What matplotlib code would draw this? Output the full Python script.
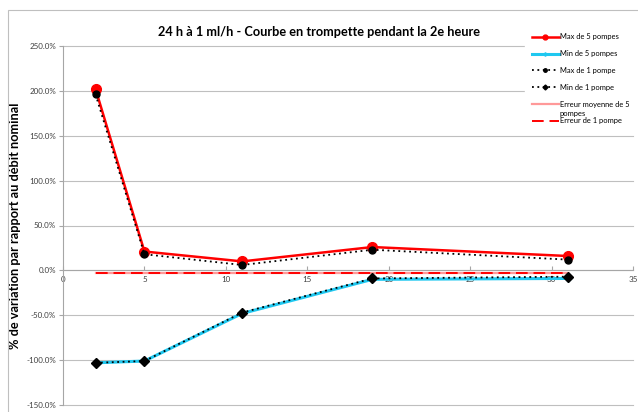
import matplotlib
matplotlib.use("Agg")
import matplotlib.pyplot as plt
from matplotlib.patches import Rectangle
from matplotlib.ticker import FuncFormatter, MultipleLocator

plt.rcParams['font.family'] = ['Lato', 'DejaVu Sans']

# Heures de mesure et variations (%)
x_heures = [2, 5, 11, 19, 31]
max_5_pompes = [202, 21, 10, 26, 16]
min_5_pompes = [-103, -101, -48, -10, -9]
max_1_pompe = [196, 18, 6, 23, 12]
min_1_pompe = [-103, -101, -47, -9, -7]
erreur_moy_5 = [-3.0, -3.0, -3.0, -3.0, -3.0]
erreur_1 = [-2.5, -2.5, -2.5, -2.5, -2.5]

titre = "24 h à 1 ml/h - Courbe en trompette pendant la 2e heure"
label_y = "% de variation par rapport au débit nominal"

fig = plt.figure(figsize=(6.38, 4.12), dpi=100)
ax = fig.add_axes([63/638, 1-405/412, (633-63)/638, (405-46)/412])

ax.plot(x_heures, erreur_moy_5, color='#ff9999', lw=1.6, label='Erreur moyenne de 5', zorder=2)
ax.plot(x_heures, erreur_1, color='#ff0000', lw=1.4, dashes=(6, 3), label='Erreur de 1 pompe', zorder=3)
ax.plot(x_heures, min_5_pompes, color='#1fc8f0', lw=2.2, marker='D', ms=3.5,
        label='Min de 5 pompes', zorder=4)
ax.plot(x_heures, max_1_pompe, color='black', lw=1.3, ls=(0, (1, 2)), marker='o', ms=5,
        label='Max de 1 pompe', zorder=5)
ax.plot(x_heures, min_1_pompe, color='black', lw=1.3, ls=(0, (1, 2)), marker='D', ms=5,
        label='Min de 1 pompe', zorder=6)
ax.plot(x_heures, max_5_pompes, color='#ff0000', lw=1.8, marker='o', ms=7,
        label='Max de 5 pompes', zorder=4.5)

ax.set_xlim(0, 35)
ax.set_ylim(-150, 250)
ax.xaxis.set_major_locator(MultipleLocator(5))
ax.yaxis.set_major_locator(MultipleLocator(50))
ax.yaxis.set_major_formatter(FuncFormatter(lambda v, p: f"{v:.1f}%"))
ax.grid(axis='y', color='#bfbfbf', lw=0.8, clip_on=False)
ax.set_axisbelow(True)
for s in ['top', 'right']:
    ax.spines[s].set_visible(False)
ax.spines['bottom'].set_position(('data', 0))
ax.spines['bottom'].set_color('#a6a6a6')
ax.spines['left'].set_color('#a6a6a6')
ax.tick_params(axis='both', labelsize=5.8, colors='#a6a6a6', labelcolor='#404040', length=3)
ax.tick_params(axis='x', direction='in', pad=4)
ax.tick_params(axis='y', direction='out', pad=2)

ax.set_ylabel(label_y, fontsize=9.2, fontweight='bold', labelpad=4)
fig.text(0.5, 1-32/412, titre, ha='center', va='center', fontsize=9.2, fontweight='bold')

handles, labels = ax.get_legend_handles_labels()
hmap = dict(zip(labels, handles))
order = ['Max de 5 pompes', 'Min de 5 pompes', 'Max de 1 pompe', 'Min de 1 pompe',
         'Erreur moyenne de 5', 'Erreur de 1 pompe']
leg = fig.legend([hmap[k] for k in order], order, loc='upper left',
                 bbox_to_anchor=(527/638, 1-29/412), fontsize=5.4, frameon=True,
                 handlelength=3.6, handletextpad=0.2, labelspacing=1.3,
                 borderaxespad=0, borderpad=0.6, markerscale=0.5)
leg.get_frame().set_edgecolor('white')
leg.get_frame().set_facecolor('white')
leg.get_frame().set_alpha(1)
leg.get_frame().set_boxstyle('square', pad=0.3)

# second line of the wrapped legend label
fig.canvas.draw()
t5 = leg.get_texts()[4]
bb = t5.get_window_extent()
fig.text(bb.x0 / fig.bbox.width, (bb.y0 - 9.5) / fig.bbox.height + 0.0,
         'pompes', fontsize=5.4, ha='left', va='bottom', zorder=10)

fig.patches.append(Rectangle((8/638, -10/412), 640/638, 412/412, transform=fig.transFigure,
                             fill=False, edgecolor='#bfbfbf', lw=0.8))

fig.savefig('out.png', dpi=100)
